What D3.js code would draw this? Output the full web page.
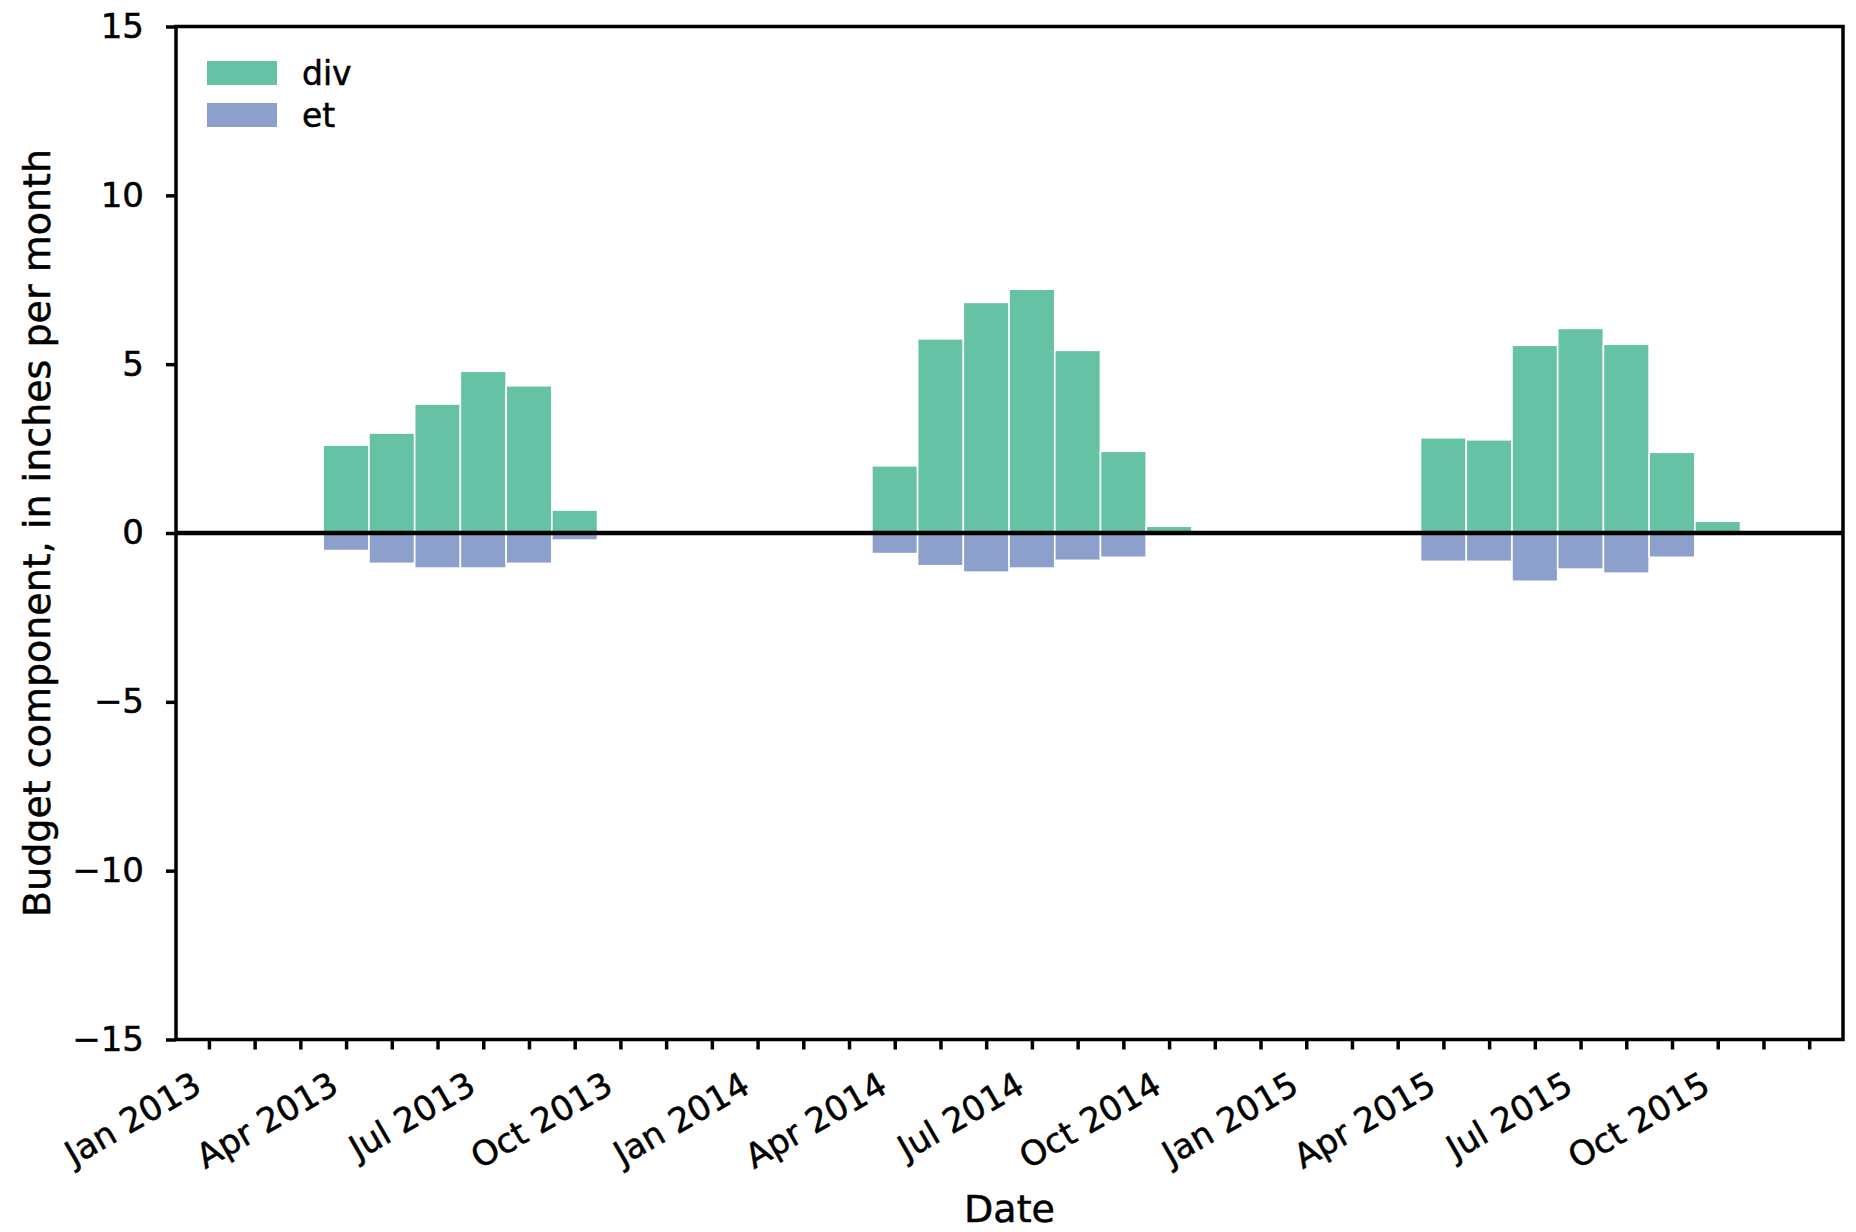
<!DOCTYPE html>
<html>
<head>
<meta charset="utf-8">
<script src="https://cdn.jsdelivr.net/npm/d3@7/dist/d3.min.js"></script>
<style>
  html, body { margin: 0; padding: 0; background: #fff; }
  svg { display: block; font-family: "DejaVu Sans", sans-serif; }
  svg text { stroke: #000; stroke-width: 0.5px; }
</style>
</head>
<body>
<svg id="chart" width="1856" height="1232"></svg>
<script>
// Monthly water-budget components (inches per month)
const months = [
  "Apr 2013", "May 2013", "Jun 2013", "Jul 2013", "Aug 2013", "Sep 2013",
  "Apr 2014", "May 2014", "Jun 2014", "Jul 2014", "Aug 2014", "Sep 2014", "Oct 2014",
  "Apr 2015", "May 2015", "Jun 2015", "Jul 2015", "Aug 2015", "Sep 2015", "Oct 2015"
];
const divValues = [
  2.60, 2.96, 3.82, 4.79, 4.36, 0.68,
  1.99, 5.75, 6.83, 7.22, 5.41, 2.42, 0.20,
  2.82, 2.76, 5.56, 6.06, 5.59, 2.39, 0.35
];
const etValues = [
  -0.52, -0.90, -1.04, -1.04, -0.90, -0.21,
  -0.61, -0.97, -1.16, -1.04, -0.81, -0.72, 0.00,
  -0.84, -0.84, -1.43, -1.07, -1.19, -0.72, -0.05
];
const seriesNames = ["div", "et"];
const seriesColors = ["#66c2a5", "#8da0cb"];
const yTicks = [-15, -10, -5, 0, 5, 10, 15];

const svg = d3.select("#chart");
const margin = { left: 176, right: 1843, top: 26.5, bottom: 1039.5 };

const parseMonth = d3.timeParse("%b %Y");
const origin = new Date(2013, 0, 1);
const monthIndex = s => d3.timeMonth.count(origin, parseMonth(s));
const labelFor = i => d3.timeFormat("%b %Y")(d3.timeMonth.offset(origin, i));

// x runs in whole months counted from Jan 2013
const x = d3.scaleLinear().domain([-0.72, 35.74]).range([margin.left, margin.right]);
const y = d3.scaleLinear().domain([-15, 15]).range([margin.bottom, margin.top]);

const rows = months.map((m, i) => ({ i: monthIndex(m), div: divValues[i], et: etValues[i] }));
const barW = x(0.5) - x(-0.5);

// bars
const series = [
  { key: "div", color: seriesColors[0] },
  { key: "et", color: seriesColors[1] }
];
series.forEach(s => {
  svg.append("g").selectAll("rect").data(rows).join("rect")
    .attr("x", d => x(d.i) - barW / 2)
    .attr("width", barW)
    .attr("y", d => y(Math.max(0, d[s.key])))
    .attr("height", d => Math.abs(y(d[s.key]) - y(0)))
    .attr("fill", s.color)
    .attr("stroke", "#fff")
    .attr("stroke-width", 1.6);
});

// zero line
svg.append("line")
  .attr("x1", margin.left).attr("x2", margin.right)
  .attr("y1", y(0)).attr("y2", y(0))
  .attr("stroke", "#000").attr("stroke-width", 4.5);

// y axis
const yAxis = d3.axisLeft(y).tickValues(yTicks).tickSize(10).tickPadding(22);
const gy = svg.append("g").attr("transform", `translate(${margin.left},0)`).call(yAxis);
gy.select(".domain").remove();
gy.selectAll(".tick line").attr("stroke", "#000").attr("stroke-width", 3.5);
gy.selectAll(".tick text").attr("font-size", 34).attr("fill", "#000")
  .attr("font-family", "DejaVu Sans");

// x axis: a tick every month, labels each quarter
const monthTicks = d3.range(0, 36);
const xAxis = d3.axisBottom(x).tickValues(monthTicks).tickSize(10)
  .tickFormat(i => (i % 3 === 0 ? labelFor(i) : ""));
const gx = svg.append("g").attr("transform", `translate(0,${margin.bottom})`).call(xAxis);
gx.select(".domain").remove();
gx.selectAll(".tick line").attr("stroke", "#000").attr("stroke-width", 3.5);
gx.selectAll(".tick text")
  .attr("font-size", 34).attr("fill", "#000").attr("font-family", "DejaVu Sans")
  .attr("text-anchor", "end")
  .attr("dy", null)
  .attr("x", -6).attr("y", 52)
  .attr("transform", "rotate(-30 -6 52)");

// frame
svg.append("rect")
  .attr("x", margin.left).attr("y", margin.top)
  .attr("width", margin.right - margin.left)
  .attr("height", margin.bottom - margin.top)
  .attr("fill", "none").attr("stroke", "#000").attr("stroke-width", 3.5);

// axis titles
svg.append("text")
  .attr("x", (margin.left + margin.right) / 2).attr("y", 1222)
  .attr("text-anchor", "middle").attr("font-size", 38).attr("fill", "#000")
  .text("Date");
svg.append("text")
  .attr("transform", `translate(50,${(margin.top + margin.bottom) / 2}) rotate(-90)`)
  .attr("text-anchor", "middle").attr("font-size", 38).attr("fill", "#000")
  .text("Budget component, in inches per month");

// legend
const legend = svg.append("g").attr("transform", "translate(207,61)");
seriesNames.forEach((name, k) => {
  const row = legend.append("g").attr("transform", `translate(0,${k * 42})`);
  row.append("rect").attr("width", 70).attr("height", 24).attr("fill", seriesColors[k]);
  row.append("text").attr("x", 95).attr("y", 24)
    .attr("font-size", 33).attr("fill", "#000").text(name);
});
</script>
</body>
</html>
